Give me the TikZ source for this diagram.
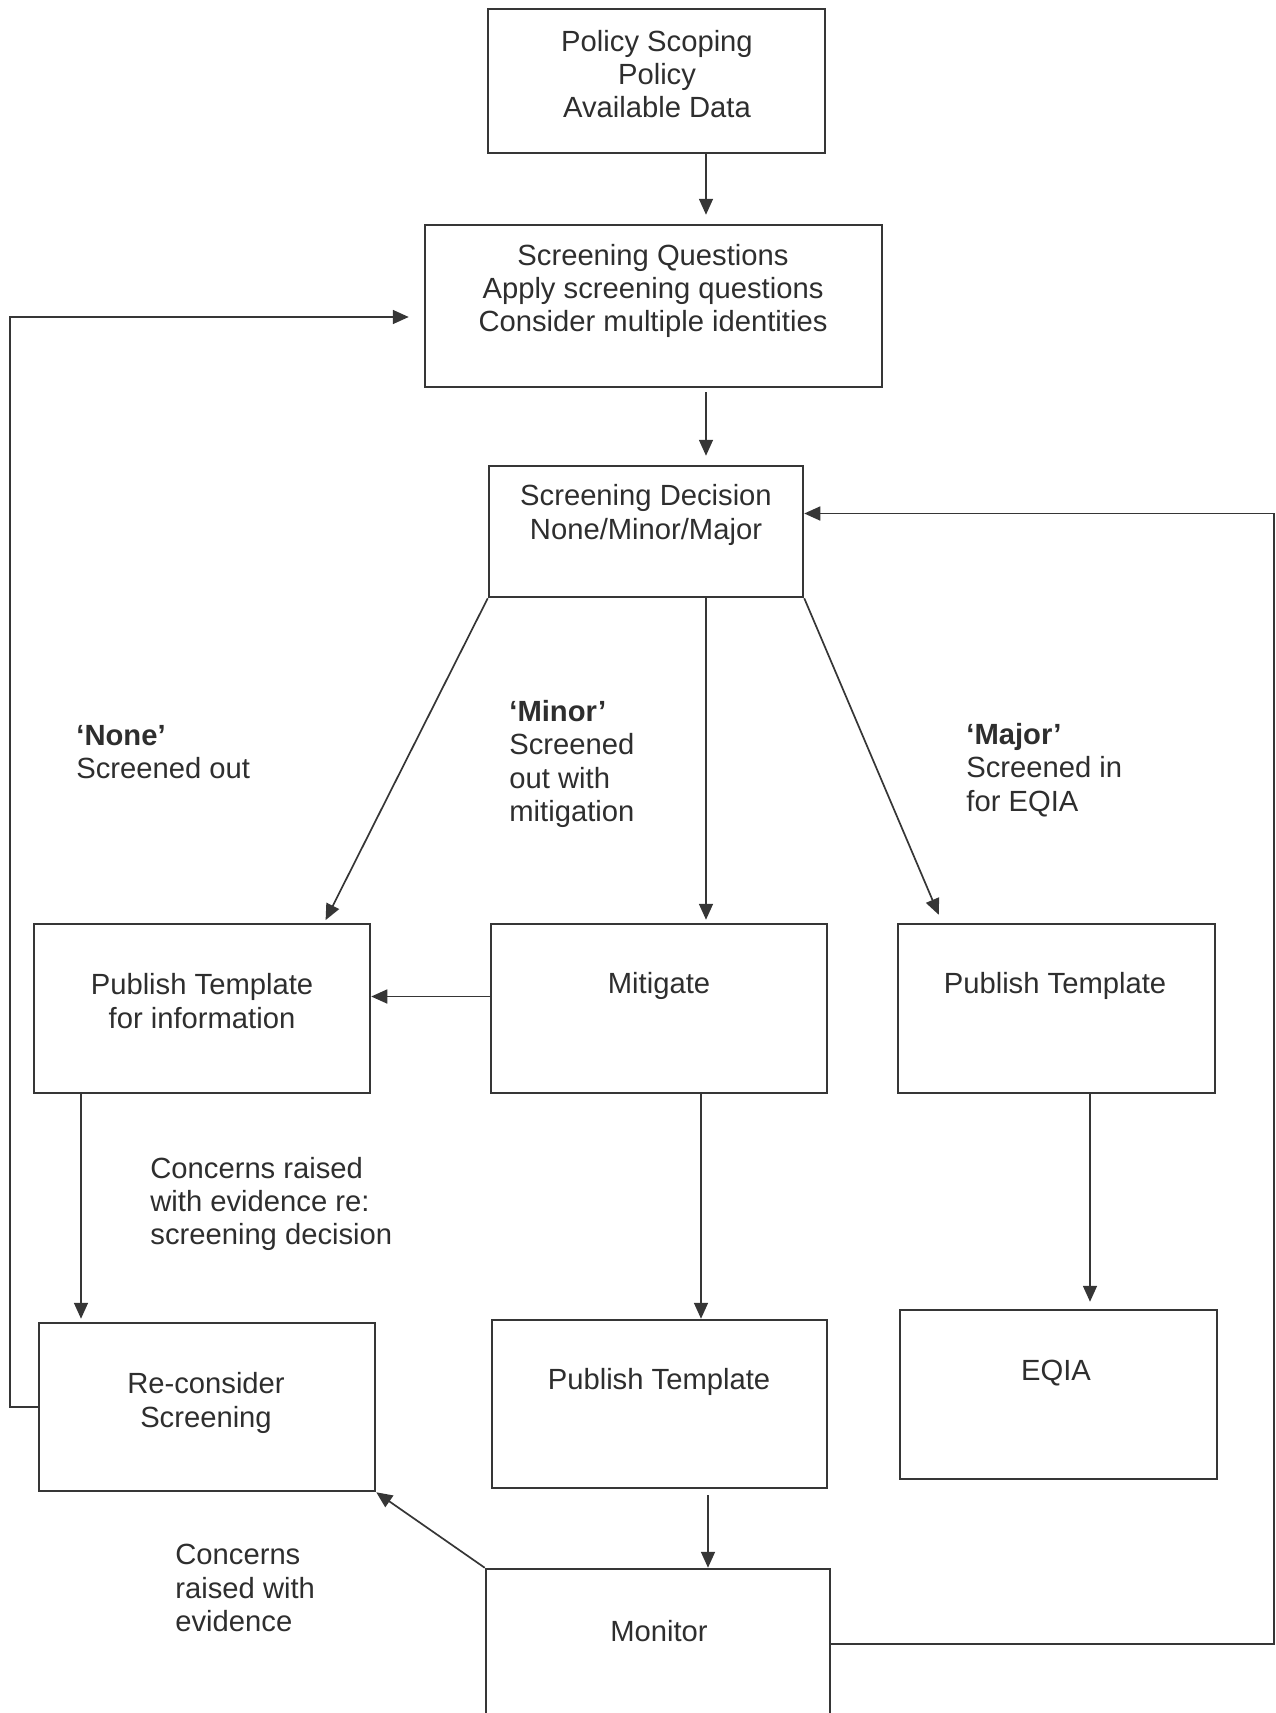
\documentclass[tikz,border=0pt]{standalone}
\usepackage{fontspec}
\setmainfont{Liberation Sans}
\usetikzlibrary{arrows.meta, calc}
\definecolor{lineGray}{HTML}{363636}
\definecolor{textGray}{HTML}{2E2E2E}

\begin{document}
\begin{tikzpicture}[
    x=0.5pt, y=-0.5pt,
    box/.style={rectangle, draw=lineGray, line width=1.25pt, inner sep=0pt},
    txt/.style={align=center, inner sep=0pt, text=textGray, font=\fontsize{14.6}{16.7}\selectfont},
    note/.style={txt, align=left, anchor=west},
    arrow/.style={line width=0.85pt, lineGray, -{Triangle[length=8pt, width=7pt]}}
]
    \useasboundingbox (0,0) rectangle (1275,1713);
    \coordinate (spine) at (706,0);

    % boxes
    \node[box, minimum width=168.5pt, minimum height=72pt] (scoping) at (656.5,81) {};
    \node[box, minimum width=228.5pt, minimum height=81pt] (questions) at (653.5,306) {};
    \node[box, minimum width=157pt, minimum height=65.5pt] (decision) at (646,531.5) {};
    \node[box, minimum width=168pt, minimum height=84.5pt] (pubinfo) at (202,1008.5) {};
    \node[box, minimum width=168pt, minimum height=84.5pt] (mitigate) at (659,1008.5) {};
    \node[box, minimum width=158.5pt, minimum height=84.5pt] (pubmajor) at (1056.5,1008.5) {};
    \node[box, minimum width=168pt, minimum height=84pt] (reconsider) at (207,1407) {};
    \node[box, minimum width=167.5pt, minimum height=84pt] (pubmid) at (659.5,1404) {};
    \node[box, minimum width=158.5pt, minimum height=84.5pt] (eqia) at (1058.5,1394.5) {};
    \node[box, minimum width=172pt, minimum height=75pt] (monitor) at (658,1644) {};

    % box texts
    \node[txt] (scopingtext) at (657,74) {Policy Scoping\\Policy\\Available Data};
    \node[txt] (questionstext) at (653,291) {Screening Questions\\Apply screening questions\\Consider multiple identities};
    \node[txt] (decisiontext) at (646,515) {Screening Decision\\None/Minor/Major};
    \node[txt] (pubinfotext) at (202,1001) {Publish Template\\for information};
    \node[txt] (mitigatetext) at (659,986) {Mitigate};
    \node[txt] (pubmajortext) at (1055,986) {Publish Template};
    \node[txt] (reconsidertext) at (206,1403) {Re-consider\\Screening};
    \node[txt] (pubmidtext) at (659,1382) {Publish Template};
    \node[txt] (eqiatext) at (1056,1373) {EQIA};
    \node[txt] (monitortext) at (659,1631) {Monitor};

    % decision labels
    \node[note] (nonelabel) at (76,752) {\textbf{‘None’}\\Screened out};
    \node[note] (minorlabel) at (509,764) {\textbf{‘Minor’}\\Screened\\out with\\mitigation};
    \node[note] (majorlabel) at (966,770) {\textbf{‘Major’}\\Screened in\\for EQIA};
    \node[note] (concernslabel) at (150,1204) {Concerns raised\\with evidence re:\\screening decision};
    \node[note] (evidencelabel) at (175,1588) {Concerns\\raised with\\evidence};

    % connectors
    \draw[arrow, shorten >=4.5pt] (scoping.south -| spine) -- (questions.north -| spine);
    \draw[arrow, shorten <=2pt, shorten >=4.5pt] (questions.south -| spine) -- (decision.north -| spine);
    \draw[arrow, shorten >=1.5pt] (decision.south west) -- ($(pubinfo.north east)+(-47,0)$);
    \draw[arrow, shorten >=1.5pt] (decision.south -| spine) -- (mitigate.north -| spine);
    \draw[arrow] (decision.south east) -- ($(pubmajor.north west)+(42,-8)$);
    \draw[arrow] ($(mitigate.west)+(0,-12)$) -- ($(pubinfo.east)+(0,-12)$);
    \draw[arrow, shorten >=1.5pt] ([xshift=-60.5pt]pubinfo.south) -- ([xshift=-60.5pt]pubinfo.south |- reconsider.north);
    \draw[arrow] ([xshift=21pt]mitigate.south) -- ([xshift=21pt]mitigate.south |- pubmid.north);
    \draw[arrow, shorten >=3.5pt] ([xshift=16.75pt]pubmajor.south) -- ([xshift=16.75pt]pubmajor.south |- eqia.north);
    \draw[arrow, shorten <=3pt] ([xshift=24.25pt]pubmid.south) -- ([xshift=24.25pt]pubmid.south |- monitor.north);
    \draw[arrow] (monitor.north west) -- (reconsider.south east);
    \draw[arrow, shorten >=7.5pt] (reconsider.west) -- ++(-28,0) |- ($(questions.west)+(0,11)$);
    \draw[arrow] (monitor.east) -- ++(443,0) |- ($(decision.east)+(0,-18)$);
\end{tikzpicture}
\end{document}
